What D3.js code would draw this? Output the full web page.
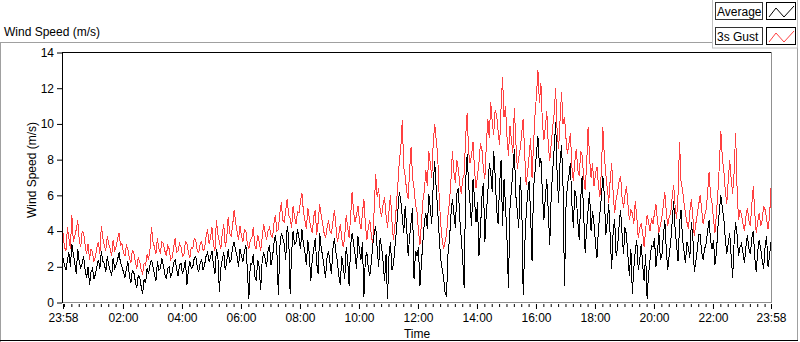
<!DOCTYPE html>
<html>
<head>
<meta charset="utf-8">
<script src="https://cdn.jsdelivr.net/npm/d3@7"></script>
<style>
  body { margin: 0; background: #fff; }
  svg text { font-family: "Liberation Sans", Arial, sans-serif; font-size: 12px; fill: #000; }
</style>
</head>
<body>
<svg width="800" height="342"></svg>
<script>
// one sample every 3 minutes, starting 23:58 (20 samples per row = 1 hour)
const sampleMinutes = 3;

// 3s gust (red), m/s
const gust = [
  3.9,3.1,2.9,4.2,3.6,3.0,4.9,3.4,3.7,4.1,4.6,3.5,3.1,4.0,3.9,3.2,2.7,3.3,2.4,3.0,
  2.8,2.3,2.6,3.1,3.4,2.7,4.3,3.6,3.2,2.9,3.7,3.3,3.0,2.6,3.5,2.9,3.1,3.6,3.9,3.2,
  3.3,2.8,2.6,3.2,3.0,2.5,2.2,2.9,2.8,2.3,1.9,2.5,2.3,1.8,1.6,2.2,2.1,2.7,2.4,3.0,
  4.2,3.4,3.1,2.7,3.6,3.0,2.8,3.4,3.3,2.9,2.6,3.2,3.0,2.4,2.5,3.1,3.6,2.8,2.9,3.3,
  3.1,2.6,2.7,3.4,3.3,2.8,2.5,3.1,3.0,3.6,3.5,2.9,2.8,3.3,3.4,2.9,3.0,3.7,4.1,3.3,
  3.6,4.2,3.2,2.9,4.6,3.8,3.4,3.0,3.9,4.4,3.1,3.6,4.8,3.9,3.7,4.3,5.2,4.5,4.0,3.5,
  4.3,3.7,3.4,4.1,4.0,3.3,3.0,3.5,3.6,4.2,3.2,3.0,3.8,3.4,2.9,3.6,4.4,3.9,3.5,4.0,
  4.2,3.8,3.6,4.4,4.9,4.0,4.1,5.0,5.6,4.6,4.5,5.2,5.8,4.9,4.7,4.2,5.4,4.8,4.4,5.1,
  5.0,5.7,6.1,5.1,4.6,4.1,5.3,4.7,4.2,3.9,4.8,5.2,3.8,4.5,5.5,4.9,4.4,3.9,3.6,4.2,
  4.6,4.0,3.9,4.5,5.2,4.3,3.4,3.8,4.4,3.6,3.1,3.7,4.9,4.2,3.6,4.8,6.2,5.1,4.5,4.9,
  5.4,4.6,4.1,5.0,5.8,4.4,3.5,4.2,4.6,3.8,3.2,5.3,7.2,5.9,6.4,5.2,4.8,5.5,5.9,4.9,
  4.2,5.1,6.0,4.6,3.5,4.3,5.4,6.6,7.9,8.6,10.2,7.6,7.1,6.2,5.8,7.4,8.7,7.0,6.4,5.5,
  5.1,4.0,3.2,4.5,5.7,6.3,7.4,6.5,8.5,7.8,7.0,8.9,10.0,9.1,8.3,6.0,4.5,3.6,3.0,3.4,
  3.8,4.9,5.6,6.8,8.5,7.3,6.7,8.0,7.5,6.6,6.1,6.9,7.2,9.3,10.6,8.4,7.8,8.3,9.0,7.4,
  6.4,7.1,7.8,8.9,8.6,7.5,6.9,8.8,10.3,9.2,11.2,10.1,9.4,10.8,10.5,9.6,8.8,10.9,12.6,10.4,
  11.0,9.3,8.2,9.9,9.1,8.4,10.9,9.0,7.5,8.1,8.6,9.5,10.3,8.3,6.6,7.3,8.2,9.2,7.0,8.8,
  10.5,11.6,13.0,11.2,12.3,10.1,9.1,9.8,10.7,8.8,7.9,8.9,9.8,10.6,12.0,9.6,8.6,10.2,11.8,10.0,
  10.4,9.2,8.3,8.9,9.5,7.6,6.8,7.9,8.6,7.4,7.1,8.5,8.2,7.0,6.3,7.7,9.8,8.1,7.0,7.8,
  6.5,7.2,7.6,6.6,5.9,7.4,9.8,8.2,7.2,6.4,5.6,6.9,7.8,6.1,5.0,5.8,6.2,6.8,7.1,5.9,
  5.3,6.0,6.5,5.5,4.6,5.2,5.0,4.4,5.7,4.8,3.6,4.2,4.4,3.9,3.1,4.1,4.9,4.5,4.0,4.7,
  4.4,5.0,5.5,4.6,3.9,4.3,4.8,5.4,6.2,5.1,4.3,4.8,5.0,5.9,6.6,5.4,4.7,6.1,9.0,6.8,
  6.3,5.6,5.0,4.5,4.1,5.1,5.8,4.8,3.7,4.4,4.9,5.5,6.0,5.2,4.4,4.9,5.2,6.1,7.3,6.0,
  5.6,4.7,3.9,5.0,6.2,7.7,9.6,8.1,7.4,6.3,5.5,6.8,8.0,6.9,6.1,7.3,9.5,6.4,4.6,5.2,
  4.9,4.4,4.0,4.8,5.3,4.6,4.3,5.5,6.5,5.0,3.9,4.5,5.0,4.3,4.6,5.4,5.2,4.7,4.1,4.8,
  6.4
];

// average (black), m/s
const average = [
  2.5,2.1,1.8,2.4,2.8,2.0,3.3,2.7,2.2,1.6,3.0,2.3,1.9,2.2,2.6,1.8,1.4,2.0,1.0,1.7,
  1.9,1.3,1.6,2.0,2.4,1.9,2.9,2.3,2.2,1.7,2.6,2.1,1.8,1.5,2.5,1.9,2.1,2.4,2.8,2.2,
  2.0,1.7,1.4,1.9,2.3,1.5,1.1,1.8,1.7,1.2,0.8,1.5,1.4,0.9,0.5,1.3,1.1,1.9,1.6,2.1,
  2.4,2.0,1.6,1.2,2.3,1.8,1.9,2.5,2.1,1.6,1.3,1.9,2.0,1.4,1.7,2.2,2.4,1.9,1.5,2.1,
  2.2,1.6,1.9,2.4,1.0,1.8,2.3,1.9,2.0,2.5,2.6,2.0,1.7,2.2,2.4,1.8,2.1,2.6,2.8,2.3,
  2.5,2.9,2.1,1.6,3.0,2.6,0.6,1.9,2.4,2.8,1.8,2.3,3.0,2.2,2.4,3.1,3.4,2.9,2.6,2.0,
  3.0,2.6,2.3,2.9,3.2,1.8,0.2,2.2,2.1,2.7,1.5,1.2,2.4,2.0,0.7,2.3,2.8,2.5,2.0,2.9,
  3.2,2.1,2.5,3.3,3.8,2.9,0.4,3.1,3.9,3.6,3.3,2.4,4.3,3.7,0.5,2.8,4.0,3.2,3.4,4.1,
  3.6,3.0,4.1,3.3,2.8,2.1,3.5,2.7,1.2,2.4,3.0,3.6,2.2,1.6,3.9,3.1,2.6,2.0,1.4,2.5,
  2.9,2.2,1.6,3.0,3.6,2.8,2.3,1.5,1.0,2.6,2.0,1.3,3.1,2.4,0.9,3.2,3.9,3.3,2.7,1.9,
  3.7,2.9,2.4,3.4,0.3,2.5,2.8,1.9,1.5,2.2,3.2,3.9,4.3,3.0,2.0,3.6,3.1,2.3,1.2,2.7,
  0.2,2.6,3.4,1.8,2.1,3.1,4.0,5.1,6.2,5.7,4.8,3.9,5.4,4.2,2.6,3.7,4.5,5.3,1.3,2.9,
  2.6,3.1,0.9,2.2,3.4,4.5,5.0,4.1,6.1,5.3,4.4,6.6,7.9,6.4,5.2,3.8,2.5,1.9,1.4,0.6,
  0.3,2.7,3.5,4.9,5.8,5.0,4.2,6.1,6.4,4.7,3.6,2.4,0.8,6.8,8.3,6.6,5.5,4.3,6.9,5.8,
  4.5,5.6,2.6,4.0,5.9,6.7,3.4,5.0,6.1,7.8,7.3,6.2,8.5,7.1,5.2,4.4,6.6,8.0,4.3,6.9,
  5.4,3.6,0.8,5.2,6.3,7.4,8.6,6.0,5.1,4.2,7.0,5.6,0.4,3.1,4.9,6.1,6.8,5.0,2.3,6.4,
  7.3,8.4,9.3,7.6,8.1,6.2,4.6,5.9,6.9,5.1,3.2,6.0,7.4,8.6,10.1,7.2,5.6,7.9,8.8,6.5,
  0.9,5.3,6.6,7.1,7.8,5.5,4.2,6.3,5.9,4.6,3.5,5.8,7.1,4.9,2.8,4.1,5.2,6.2,4.0,5.1,
  4.4,3.3,2.5,4.1,5.0,5.9,7.1,6.0,3.8,4.5,5.5,3.7,1.9,4.0,4.7,2.6,3.1,4.3,5.2,3.9,
  2.7,4.2,3.8,2.6,1.5,3.0,0.5,1.9,2.9,3.5,1.8,2.4,3.3,2.1,1.2,2.7,0.2,1.6,2.4,3.2,
  3.1,3.6,2.0,2.8,3.9,2.4,2.6,3.7,4.6,3.0,1.8,2.7,3.4,4.5,5.7,4.1,3.2,2.3,4.4,5.2,
  3.6,2.9,2.2,3.4,3.1,2.5,4.5,3.7,1.7,2.3,2.9,3.8,3.8,2.8,2.4,3.0,3.3,4.0,4.6,3.5,
  3.0,3.5,2.1,2.8,4.2,5.1,6.0,5.3,4.7,3.6,2.7,3.3,3.9,2.6,1.4,3.4,4.5,3.8,2.6,3.1,
  3.3,2.8,2.2,3.1,3.8,3.0,2.7,3.6,4.0,2.5,1.7,2.9,3.5,3.0,2.4,1.9,3.1,3.7,2.0,2.6,
  3.4
];

const yTicks = [0, 2, 4, 6, 8, 10, 12, 14];
const xMajorHours = [2, 4, 6, 8, 10, 12, 14, 16, 18, 20, 22];

const svg = d3.select("svg");
const t0 = new Date(2020, 0, 1, 23, 58);
const t1 = new Date(2020, 0, 2, 23, 58);
const timeOf = i => new Date(t0.getTime() + i * sampleMinutes * 60000);

const x = d3.scaleTime().domain([t0, t1]).range([63, 771]);
const y = d3.scaleLinear().domain([0, 14]).range([302.5, 52.5]);

// outer panel frame
svg.append("line").attr("x1", 0).attr("x2", 712).attr("y1", 42.5).attr("y2", 42.5).attr("stroke", "#a0a0a0");
svg.append("line").attr("x1", 0.5).attr("x2", 0.5).attr("y1", 42).attr("y2", 342).attr("stroke", "#a0a0a0");
svg.append("line").attr("x1", 797.5).attr("x2", 797.5).attr("y1", 48).attr("y2", 341).attr("stroke", "#a0a0a0");
svg.append("line").attr("x1", 0).attr("x2", 798).attr("y1", 340.5).attr("y2", 340.5).attr("stroke", "#000");

svg.append("text").attr("x", 4).attr("y", 36).text("Wind Speed (m/s)");

// plot frame: dark top/left, grey right/bottom
svg.append("line").attr("x1", 62).attr("x2", 772).attr("y1", 52.5).attr("y2", 52.5).attr("stroke", "#000");
svg.append("line").attr("x1", 771.5).attr("x2", 771.5).attr("y1", 52).attr("y2", 303).attr("stroke", "#909090");
svg.append("line").attr("x1", 62).attr("x2", 772).attr("y1", 302.5).attr("y2", 302.5).attr("stroke", "#909090");

// data
svg.append("clipPath").attr("id", "plot")
   .append("rect").attr("x", 63).attr("y", 53).attr("width", 708).attr("height", 249);

const line = d3.line()
  .x((d, i) => x(timeOf(i)))
  .y(d => y(d));

const plot = svg.append("g").attr("clip-path", "url(#plot)");
plot.append("path").datum(gust).attr("d", line)
    .attr("fill", "none").attr("stroke", "#ff4040").attr("stroke-width", 1)
    .attr("shape-rendering", "crispEdges");
plot.append("path").datum(average).attr("d", line)
    .attr("fill", "none").attr("stroke", "#000").attr("stroke-width", 1)
    .attr("shape-rendering", "crispEdges");

// y axis
const yAxis = svg.append("g").attr("transform", "translate(62,0)")
  .call(d3.axisLeft(y).tickValues(yTicks).tickFormat(d3.format("d")).tickSize(5).tickSizeOuter(0).tickPadding(3));
yAxis.select(".domain").attr("stroke", "#000");
yAxis.selectAll("text").style("font-size", "12px");

// x axis: minor ticks every 15 minutes, major ticks every 2 hours plus both ends
const minorTicks = d3.timeMinute.every(15).range(new Date(2020, 0, 2, 0, 0), t1);
const majorTicks = [t0].concat(xMajorHours.map(h => new Date(2020, 0, 2, h, 0)), [t1]);

const xMinor = svg.append("g").attr("transform", "translate(0,304)")
  .call(d3.axisBottom(x).tickValues(minorTicks).tickSize(3).tickFormat(""));
xMinor.select(".domain").remove();

const xMajor = svg.append("g").attr("transform", "translate(0,304)")
  .call(d3.axisBottom(x).tickValues(majorTicks).tickSize(5).tickPadding(4).tickFormat(d3.timeFormat("%H:%M")));
xMajor.select(".domain").remove();
xMajor.selectAll("text").style("font-size", "12px");

svg.append("text").attr("x", 417).attr("y", 338).attr("text-anchor", "middle").text("Time");
svg.append("text").attr("transform", "translate(36,170) rotate(-90)").attr("text-anchor", "middle").text("Wind Speed (m/s)");

// legend
const legend = svg.append("g");
legend.append("rect").attr("x", 712.5).attr("y", -1).attr("width", 85).attr("height", 49)
  .attr("fill", "#fff").attr("stroke", "#c0c0c0");
const items = [{name: "Average", color: "#000"}, {name: "3s Gust", color: "#ff4040"}];
const item = legend.selectAll(".item").data(items).enter().append("g")
  .attr("transform", (d, i) => "translate(0," + (i * 25) + ")");
item.append("rect").attr("x", 715.5).attr("y", 2.5).attr("width", 47).attr("height", 17)
  .attr("fill", "#fff").attr("stroke", "#333");
item.append("text").attr("x", 717).attr("y", 15.5).text(d => d.name);
item.append("rect").attr("x", 766.5).attr("y", 2.5).attr("width", 29).attr("height", 17)
  .attr("fill", "#fff").attr("stroke", "#000");
item.append("polyline").attr("points", "769,17 776,8 784,17 794,6")
  .attr("fill", "none").attr("stroke", d => d.color);
</script>
</body>
</html>
